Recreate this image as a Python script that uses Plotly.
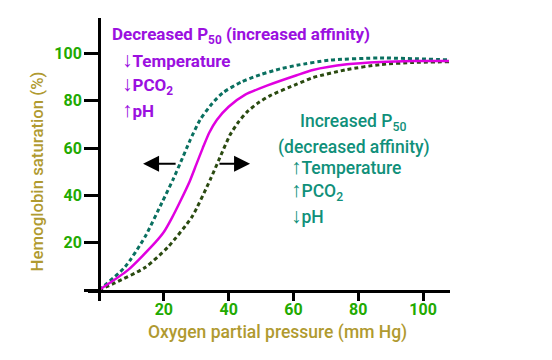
import plotly.graph_objects as go

# Normal curve (solid magenta)
normal_x = [0, 9, 17.3, 20, 22.5, 25, 28, 30, 32, 34, 36.4, 40, 45, 52, 61, 66, 76.5, 86.7, 97, 108]
normal_y = [0, 8.5, 20, 24.5, 30.5, 37.3, 46, 53, 60, 66.5, 72, 77.5, 82.5, 86.5, 90.8, 93, 95.4, 96.4, 96.8, 96.8]

# Decreased P50 (left, teal dashed)
left_x = [0, 8, 14.2, 19.4, 22.8, 25, 28, 31.2, 35, 38.3, 44, 49.7, 55.9, 61, 71.3, 86.7, 108]
left_y = [0, 9.7, 22.5, 36.9, 46.6, 53.4, 63, 72, 79, 83.5, 88, 91, 93.5, 95, 97.2, 98.1, 97.3]

# Increased P50 (right, dark olive dashed)
right_x = [0, 4.9, 14.2, 21.3, 28.7, 34.3, 37.3, 40.4, 43, 45.7, 49, 52.8, 61, 66, 76.5, 86.7, 97, 108]
right_y = [0, 3, 9.5, 18.2, 31, 46.6, 56, 65.5, 71, 75.3, 79, 82.2, 87, 89.8, 93.2, 95.3, 96.2, 96.5]

x_ticks = [0, 20, 40, 60, 80, 100]
x_ticktext = ["", "20", "40", "60", "80", "100"]
y_ticks = [0, 20, 40, 60, 80, 100]
y_ticktext = ["", "20", "40", "60", "80", "100"]

PURPLE = "#9b10e0"
TEAL = "#10907a"
GREEN = "#22aa00"
OLIVE = "#b09a30"
FONT = "Roboto"

fig = go.Figure()
fig.add_trace(go.Scatter(x=left_x, y=left_y, mode="lines", line_shape="spline", line_smoothing=0.6,
                         line=dict(color="#0a7060", width=3, dash="4px,3px"), showlegend=False))
fig.add_trace(go.Scatter(x=right_x, y=right_y, mode="lines", line_shape="spline", line_smoothing=0.6,
                         line=dict(color="#2a4a10", width=3, dash="4px,3px"), showlegend=False))
fig.add_trace(go.Scatter(x=normal_x, y=normal_y, mode="lines", line_shape="spline", line_smoothing=0.6,
                         line=dict(color="#e000e0", width=2.5), showlegend=False))

# page has an 8px body margin: figure origin sits at (8, 8)
W, H = 544, 352
L, R, T, B = 80, 102, 10, 70
plot_w = W - L - R
x_min = -3.4
x_max = 108.3
ypos = (0 - x_min) / (x_max - x_min)

fig.update_layout(
    width=W, height=H,
    margin=dict(l=L, r=R, t=T, b=B, autoexpand=False),
    paper_bgcolor="white", plot_bgcolor="white",
    font=dict(family=FONT),
    xaxis=dict(range=[x_min, x_max], domain=[0, 1], showgrid=False, zeroline=False, automargin=False,
               showline=True, linecolor="black", linewidth=3,
               ticks="outside", ticklen=8, tickwidth=3, tickcolor="black",
               ticklabelstandoff=-5,
               tickvals=x_ticks, ticktext=x_ticktext,
               tickfont=dict(color=GREEN, size=16, family=FONT, weight="bold")),
    yaxis=dict(range=[0, 115], showgrid=False, zeroline=False, anchor="free", position=ypos,
               automargin=False,
               showline=True, linecolor="black", linewidth=3,
               ticks="outside", ticklen=14, tickwidth=3, tickcolor="black",
               ticklabelstandoff=-1,
               tickvals=y_ticks, ticktext=y_ticktext,
               tickfont=dict(color=GREEN, size=16, family=FONT, weight="bold")),
)

# axis titles as annotations
fig.add_annotation(text="Hemoglobin saturation (%)", xref="paper", yref="paper",
                   x=-(L - 29) / plot_w, y=0.436, xanchor="center", yanchor="middle",
                   textangle=-90, showarrow=False,
                   font=dict(color=OLIVE, size=16.8, family=FONT, weight=500))
fig.add_annotation(text="Oxygen partial pressure (mm Hg)", xref="x", yref="paper",
                   x=55, y=0, yshift=-42, xanchor="center", yanchor="middle", showarrow=False,
                   font=dict(color=OLIVE, size=17.5, family=FONT, weight=500))

ARW = '<span style="font-size:21px">{}</span>'

# Purple annotations
fig.add_annotation(text="Decreased P<sub>50</sub> (increased affinity)", x=3.4, y=107.5,
                   xanchor="left", showarrow=False,
                   font=dict(color=PURPLE, size=17, family=FONT, weight="bold"))
for a, txt, yv in [("↓", "Temperature", 97.1), ("↓", "PCO<sub>2</sub>", 86.5), ("↑", "pH", 76.0)]:
    fig.add_annotation(text=ARW.format(a) + txt, x=6.4, y=yv, xanchor="left", showarrow=False,
                       font=dict(color=PURPLE, size=17, family=FONT, weight="bold"))

# Teal annotations
fig.add_annotation(text="Increased P<sub>50</sub>", x=78.5, y=70.8, showarrow=False,
                   font=dict(color=TEAL, size=17.5, family=FONT, weight=500))
fig.add_annotation(text="(decreased affinity)", x=78.8, y=60.3, showarrow=False,
                   font=dict(color=TEAL, size=17.5, family=FONT, weight=500))
for a, txt, yv in [("↑", "Temperature", 52.1), ("↑", "PCO<sub>2</sub>", 42.0), ("↓", "pH", 31.3)]:
    fig.add_annotation(text=ARW.format(a) + txt, x=58.6, y=yv, xanchor="left", showarrow=False,
                       font=dict(color=TEAL, size=17.5, family=FONT, weight=500))

# Shift arrows
fig.add_annotation(x=13.6, y=53.4, ax=24.1, ay=53.4, xref="x", yref="y", axref="x", ayref="y",
                   showarrow=True, arrowhead=2, arrowsize=1.6, arrowwidth=2, arrowcolor="black", text="")
fig.add_annotation(x=46.6, y=53.4, ax=36.7, ay=53.4, xref="x", yref="y", axref="x", ayref="y",
                   showarrow=True, arrowhead=2, arrowsize=1.6, arrowwidth=2, arrowcolor="black", text="")

fig.write_html("out.html")
